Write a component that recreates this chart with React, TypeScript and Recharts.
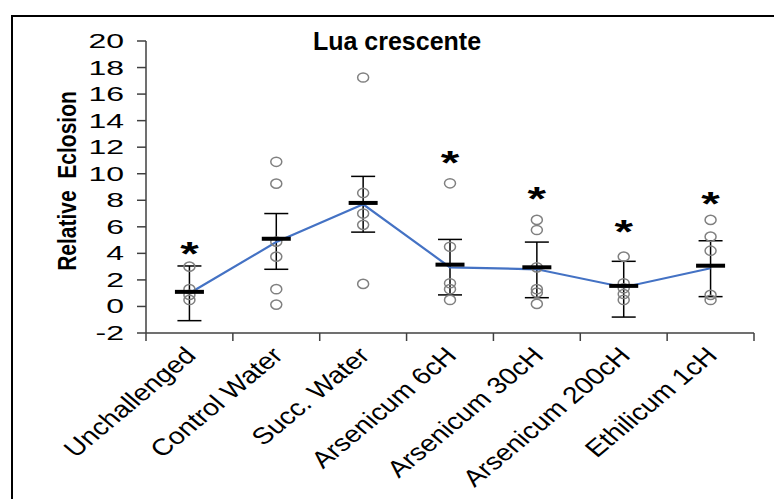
import React from 'react';
import { ComposedChart, Line, Scatter, XAxis, YAxis, ErrorBar } from 'recharts';

const categories = ['Unchallenged', 'Control Water', 'Succ. Water', 'Arsenicum 6cH', 'Arsenicum 30cH', 'Arsenicum 200cH', 'Ethilicum 1cH'];
const lineValues = [1.0, 4.85, 7.7, 2.95, 2.8, 1.45, 2.88];
const meanValues = [1.1, 5.1, 7.8, 3.15, 2.95, 1.55, 3.07];
const errTop = [3.05, 7.0, 9.8, 5.05, 4.85, 3.4, 4.95];
const errBottom = [-1.07, 2.8, 5.6, 0.87, 0.66, -0.8, 0.74];
const pointValues = [
  [3.0, 1.3, 0.87, 0.49],
  [10.9, 9.25, 4.88, 3.75, 1.3, 0.14],
  [17.25, 8.55, 7.0, 6.15, 1.7],
  [9.28, 4.5, 1.75, 1.3, 0.49],
  [6.52, 5.76, 2.95, 1.3, 1.04, 0.19],
  [3.75, 1.75, 1.37, 0.94, 0.49],
  [6.52, 5.26, 4.2, 0.87, 0.49],
];
const starValues: (number | null)[] = [4.5, null, null, 11.3, 8.65, 6.14, 8.27];
const yTicks = [-2, 0, 2, 4, 6, 8, 10, 12, 14, 16, 18, 20];
const xTicks = [0, 1, 2, 3, 4, 5, 6, 7];

const FONT = '"Liberation Sans", Arial, sans-serif';
const W = 774;
const H = 499;
const M = { top: 41, right: 20, left: 0, bottom: 0 };
const Y_W = 146;
const BAND = (W - Y_W - M.right) / categories.length;

const lineData = categories.map((name, i) => ({
  x: i + 0.5,
  name,
  y: lineValues[i],
  err: [lineValues[i] - errBottom[i], errTop[i] - lineValues[i]],
}));
const meanData = categories.map((name, i) => ({ x: i + 0.5, y: meanValues[i] }));
const pointData = pointValues.flatMap((vals, i) => vals.map((v) => ({ x: i + 0.5, y: v })));
const starData = starValues
  .map((v, i) => ({ x: i + 0.5, y: v }))
  .filter((d) => d.y !== null);

const YTick = (props: any) => {
  const { x, y, payload } = props;
  return (
    <g transform={`translate(${x},${y})`}>
      <text transform="scale(1.6,1)" textAnchor="end" dy={7} fontSize={20} fontFamily={FONT} fill="#000">
        {payload.value}
      </text>
    </g>
  );
};

const XTick = (props: any) => {
  const { x, payload } = props;
  const v = payload.value;
  if (v >= categories.length) return <g />;
  const ax = x + BAND / 2 + 8;
  const ay = 357;
  return (
    <g transform={`translate(${ax},${ay}) scale(1.2,1) rotate(-45)`}>
      <text textAnchor="end" fontSize={23.5} fontFamily={FONT} fill="#000">
        {categories[v]}
      </text>
    </g>
  );
};

const Ring = (props: any) => {
  const { cx, cy } = props;
  return <ellipse cx={cx} cy={cy} rx={5.5} ry={4.6} fill="none" stroke="#808080" strokeWidth={1.5} />;
};

const MeanBar = (props: any) => {
  const { cx, cy } = props;
  return <rect x={cx - 14.5} y={cy - 2} width={29} height={4} fill="#000" />;
};

const Star = (props: any) => {
  const { cx, cy } = props;
  return (
    <g transform={`translate(${cx},${cy + 18})`}>
      <text transform="scale(1.4,1)" textAnchor="middle" fontSize={34} fontWeight="bold" fontFamily={FONT} fill="#000">
        *
      </text>
    </g>
  );
};

export default function App() {
  return (
    <div style={{ position: 'absolute', left: 0, top: 0, width: W, height: H, background: '#fff', overflow: 'hidden' }}>
      <div
        style={{
          position: 'absolute',
          left: 11,
          top: 15,
          width: W - 11,
          height: H - 15,
          boxSizing: 'border-box',
          borderTop: '2px solid #000',
          borderLeft: '2px solid #000',
        }}
      />
      <div style={{ position: 'absolute', left: 0, top: 0 }}>
        <ComposedChart width={W} height={H} data={lineData} margin={M}>
          <XAxis
            dataKey="x"
            type="number"
            domain={[0, 7]}
            ticks={xTicks}
            interval={0}
            tickSize={8}
            height={166}
            axisLine={{ stroke: '#404040', strokeWidth: 1.5 }}
            tickLine={{ stroke: '#404040', strokeWidth: 1.5 }}
            tick={<XTick />}
          />
          <YAxis
            type="number"
            domain={[-2, 20]}
            ticks={yTicks}
            interval={0}
            width={Y_W}
            tickSize={9}
            tickMargin={13}
            axisLine={{ stroke: '#404040', strokeWidth: 1.5 }}
            tickLine={{ stroke: '#404040', strokeWidth: 1.5 }}
            tick={<YTick />}
          />
          <Line
            dataKey="y"
            stroke="#4472C4"
            strokeWidth={2.2}
            dot={false}
            activeDot={false}
            isAnimationActive={false}
          >
            <ErrorBar dataKey="err" width={12} stroke="#000" strokeWidth={1.5} direction="y" />
          </Line>
          <Scatter data={pointData} dataKey="y" shape={<Ring />} isAnimationActive={false} />
          <Scatter data={meanData} dataKey="y" shape={<MeanBar />} isAnimationActive={false} />
          <Scatter data={starData} dataKey="y" shape={<Star />} isAnimationActive={false} />
        </ComposedChart>
      </div>
      <svg width={W} height={H} style={{ position: 'absolute', left: 0, top: 0, pointerEvents: 'none' }}>
        <text x={397} y={50} textAnchor="middle" fontSize={25} fontWeight="bold" fontFamily={FONT} fill="#000">
          Lua crescente
        </text>
        <text
          transform="translate(76,181) scale(1.2,1) rotate(-90)"
          textAnchor="middle"
          fontSize={21}
          fontWeight="bold"
          fontFamily={FONT}
          fill="#000"
          style={{ whiteSpace: 'pre' }}
        >
          {'Relative  Eclosion'}
        </text>
      </svg>
    </div>
  );
}
